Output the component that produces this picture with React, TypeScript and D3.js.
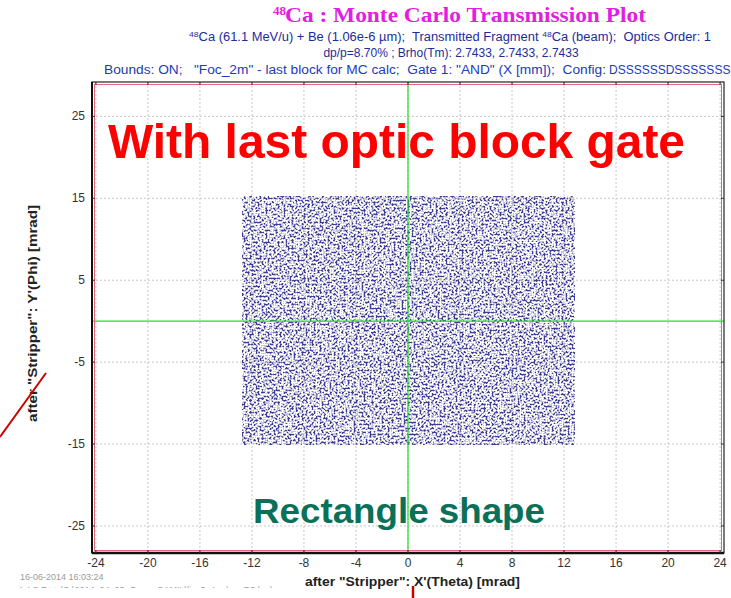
import React from "react";
import * as d3 from "d3";

const xTicks = [-24, -20, -16, -12, -8, -4, 0, 4, 8, 12, 16, 20, 24];
const yTicks = [25, 15, 5, -5, -15, -25];
const xDomain = [-24.3, 24.3];
const yDomain = [-28.3, 29.2];
// Monte Carlo gate region (transmitted particles fill this rectangle)
const gateX = [-12.7, 12.8];
const gateY = [-15.1, 15.2];

const titleMain = "Ca : Monte Carlo Transmission Plot";
const sub1a = "Ca (61.1 MeV/u) + Be (1.06e-6 \u00b5m);  Transmitted Fragment ";
const sub1b = "Ca (beam);  Optics Order: 1";
const sub2 = "dp/p=8.70% ; Brho(Tm): 2.7433, 2.7433, 2.7433";
const sub3a = 'Bounds: ON;   "Foc_2m" - last block for MC calc;  Gate 1: "AND" (X [mm]);  Config:';
const sub3b = "DSSSSSSDSSSSSSS";
const xLabel = 'after "Stripper": X\'(Theta) [mrad]';
const yLabel = 'after "Stripper": Y\'(Phi) [mrad]';
const overlay1 = "With last optic block gate";
const overlay2 = "Rectangle shape";
const footer1 = "16-06-2014  16:03:24";
const footer2 = "L.I.S.E++ (C:\\2014_04_03_Omar_CAMIL\\lise3_App\\ca_D3.lpp)";

export default function App() {
  const W = 731, H = 598;
  const x = d3.scaleLinear().domain(xDomain).range([92, 724]);
  const y = d3.scaleLinear().domain(yDomain).range([553, 82]);
  const L = x(xDomain[0]), R = x(xDomain[1]), T = y(yDomain[1]), B = y(yDomain[0]);
  const font = "'Liberation Sans', Arial, sans-serif";
  return (
    <svg width={W} height={H} style={{ position: "fixed", left: 0, top: 0, background: "#fff" }} fontFamily={font}>
      <defs>
        <filter id="mc" x="0" y="0" width="1" height="1" colorInterpolationFilters="sRGB">
          <feTurbulence type="fractalNoise" baseFrequency="0.5 0.5" numOctaves={1} seed={11} result="n" />
          <feColorMatrix in="n" type="matrix" values="0 0 0 0 0.24  0 0 0 0 0.24  0 0 0 0 0.58  1.6 0 0 0 -0.3" result="c" />
          <feComponentTransfer in="c">
            <feFuncA type="discrete" tableValues="0 0 0 0 0 0.3 0.7 1 1 1" />
          </feComponentTransfer>
        </filter>
        <clipPath id="footclip"><rect x={0} y={0} width={W} height={588} /></clipPath>
      </defs>
      <rect width={W} height={H} fill="#fff" />

      {/* title */}
      <text x={273} y={15} fill="#e020e0" fontFamily="'Liberation Serif', 'Times New Roman', serif" fontWeight="bold" fontSize={13}>48</text>
      <text x={285} y={22} fill="#e020e0" fontFamily="'Liberation Serif', 'Times New Roman', serif" fontWeight="bold" fontSize={21} textLength={361} lengthAdjust="spacingAndGlyphs">{titleMain}</text>
      <text x={189} y={41} fill="#1c2c9a" fontSize={12} textLength={522} lengthAdjust="spacingAndGlyphs" style={{ whiteSpace: "pre" }}>
        <tspan fontSize={8} dy={-4}>48</tspan>
        <tspan dy={4}>{sub1a}</tspan>
        <tspan fontSize={8} dy={-4}>48</tspan>
        <tspan dy={4}>{sub1b}</tspan>
      </text>
      <text x={451} y={57} textAnchor="middle" fill="#1c2c9a" fontSize={12}>{sub2}</text>
      <text x={104} y={74} fill="#2338c0" fontSize={12} textLength={502} lengthAdjust="spacingAndGlyphs" style={{ whiteSpace: "pre" }}>{sub3a}</text>
      <text x={609} y={74} fill="#2338c0" fontSize={12}>{sub3b}</text>

      {/* grid */}
      {xTicks.map((t) => (
        <line key={"gx" + t} x1={x(t)} x2={x(t)} y1={T} y2={B} stroke="#c8c8c8" strokeDasharray="2,2" />
      ))}
      {yTicks.map((t) => (
        <line key={"gy" + t} x1={L} x2={R} y1={y(t)} y2={y(t)} stroke="#c8c8c8" strokeDasharray="2,2" />
      ))}

      {/* monte carlo scatter */}
      <rect x={x(gateX[0])} y={y(gateY[1])} width={x(gateX[1]) - x(gateX[0])} height={y(gateY[0]) - y(gateY[1])} fill="#000" filter="url(#mc)" />

      {/* overlay texts */}
      <text x={108} y={158} fill="#ff0000" fontWeight="bold" fontSize={49} textLength={577} lengthAdjust="spacingAndGlyphs">{overlay1}</text>
      <text x={253} y={523} fill="#0a7058" fontWeight="bold" fontSize={35} textLength={292} lengthAdjust="spacingAndGlyphs">{overlay2}</text>

      {/* crosshair */}
      <line x1={x(0)} x2={x(0)} y1={T} y2={B} stroke="#22dd22" strokeWidth={1.2} />
      <line x1={L} x2={R} y1={y(0)} y2={y(0)} stroke="#22dd22" strokeWidth={1.2} />

      {/* frame */}
      <rect x={L + 2.5} y={T + 2.5} width={R - L - 5} height={B - T - 5} fill="none" stroke="#e06a7a" strokeWidth={1} />
      <rect x={L} y={T} width={R - L} height={B - T} fill="none" stroke="#222" strokeWidth={1.2} />
      <line x1={L} x2={R} y1={B} y2={B} stroke="#111" strokeWidth={2.5} />
      <line x1={L} x2={L} y1={T} y2={B} stroke="#111" strokeWidth={2} />
      {xTicks.map((t) => (
        <g key={"tx" + t}>
          <line x1={x(t)} x2={x(t)} y1={T} y2={T + 3} stroke="#333" />
          <line x1={x(t)} x2={x(t)} y1={B} y2={B - 3} stroke="#333" />
          <text x={x(t)} y={567} textAnchor="middle" fontSize={12} fill="#333">{t}</text>
        </g>
      ))}
      {yTicks.map((t) => (
        <g key={"ty" + t}>
          <line x1={L} x2={L + 3} y1={y(t)} y2={y(t)} stroke="#333" />
          <line x1={R} x2={R - 3} y1={y(t)} y2={y(t)} stroke="#333" />
          <text x={85} y={y(t) + 4} textAnchor="end" fontSize={12} fill="#333">{t}</text>
        </g>
      ))}

      {/* axis labels */}
      <text x={305} y={586} fontWeight="bold" fontSize={13} fill="#222" textLength={215} lengthAdjust="spacingAndGlyphs">{xLabel}</text>
      <text transform="translate(37,422) rotate(-90)" fontWeight="bold" fontSize={13} fill="#222" textLength={217} lengthAdjust="spacingAndGlyphs">{yLabel}</text>

      {/* footer */}
      <text x={20} y={580} fontSize={9} fill="#9a9a9a">{footer1}</text>
      <g clipPath="url(#footclip)">
        <text x={20} y={593} fontSize={9} fill="#9a9a9a">{footer2}</text>
      </g>

      {/* annotation strokes */}
      <line x1={0} y1={437} x2={46} y2={373} stroke="#cc0000" strokeWidth={2} />
      <line x1={413} y1={586} x2={413} y2={598} stroke="#cc0000" strokeWidth={2.5} />
    </svg>
  );
}
